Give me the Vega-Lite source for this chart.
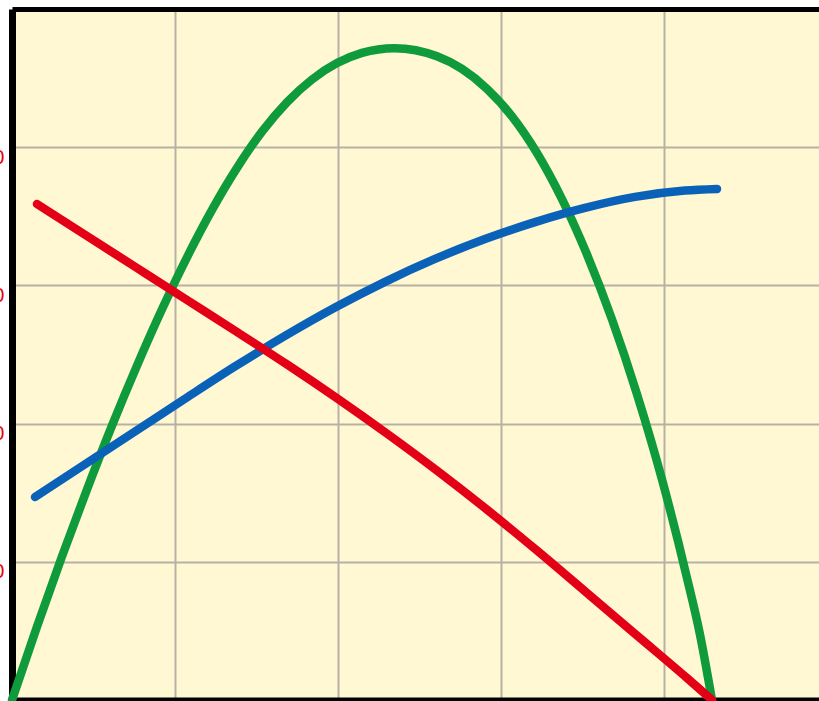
{
  "$schema": "https://vega.github.io/schema/vega-lite/v6.json",
  "width": 807,
  "height": 691,
  "autosize": {"type": "none"},
  "padding": {"left": 12, "top": 9, "right": 0, "bottom": 1},
  "background": "#ffffff",
  "config": {"view": {"fill": "#fff8d2", "stroke": null}},
  "datasets": {
    "curves": [
      {"series": "green", "x": 0, "y": 0},
      {"series": "green", "x": 0.1534, "y": 0.5311},
      {"series": "green", "x": 0.3067, "y": 1.0391},
      {"series": "green", "x": 0.4601, "y": 1.5239},
      {"series": "green", "x": 0.6135, "y": 1.9855},
      {"series": "green", "x": 0.7669, "y": 2.4197},
      {"series": "green", "x": 0.9202, "y": 2.8271},
      {"series": "green", "x": 1.0736, "y": 3.2033},
      {"series": "green", "x": 1.227, "y": 3.5463},
      {"series": "green", "x": 1.3804, "y": 3.8502},
      {"series": "green", "x": 1.5337, "y": 4.1122},
      {"series": "green", "x": 1.6871, "y": 4.3256},
      {"series": "green", "x": 1.8405, "y": 4.4899},
      {"series": "green", "x": 1.9939, "y": 4.6085},
      {"series": "green", "x": 2.1472, "y": 4.6823},
      {"series": "green", "x": 2.346, "y": 4.7164},
      {"series": "green", "x": 2.6074, "y": 4.6577},
      {"series": "green", "x": 2.7607, "y": 4.5666},
      {"series": "green", "x": 2.9141, "y": 4.4226},
      {"series": "green", "x": 3.0675, "y": 4.2236},
      {"series": "green", "x": 3.2209, "y": 3.958},
      {"series": "green", "x": 3.3742, "y": 3.6245},
      {"series": "green", "x": 3.5276, "y": 3.2236},
      {"series": "green", "x": 3.681, "y": 2.754},
      {"series": "green", "x": 3.8344, "y": 2.2127},
      {"series": "green", "x": 3.9877, "y": 1.5962},
      {"series": "green", "x": 4.1411, "y": 0.8835},
      {"series": "green", "x": 4.2209, "y": 0.4736},
      {"series": "green", "x": 4.2945, "y": 0},
      {"series": "blue", "x": 0.1411, "y": 1.4689},
      {"series": "blue", "x": 0.4479, "y": 1.7058},
      {"series": "blue", "x": 0.7546, "y": 1.9428},
      {"series": "blue", "x": 1.0613, "y": 2.1798},
      {"series": "blue", "x": 1.3681, "y": 2.4135},
      {"series": "blue", "x": 1.6748, "y": 2.6342},
      {"series": "blue", "x": 1.9816, "y": 2.8397},
      {"series": "blue", "x": 2.2883, "y": 3.0257},
      {"series": "blue", "x": 2.5951, "y": 3.1913},
      {"series": "blue", "x": 2.9018, "y": 3.3353},
      {"series": "blue", "x": 3.2086, "y": 3.458},
      {"series": "blue", "x": 3.5153, "y": 3.5608},
      {"series": "blue", "x": 3.8221, "y": 3.6402},
      {"series": "blue", "x": 4.1288, "y": 3.6862},
      {"series": "blue", "x": 4.3252, "y": 3.6977},
      {"series": "red", "x": 0.1534, "y": 3.589},
      {"series": "red", "x": 0.4601, "y": 3.3575},
      {"series": "red", "x": 0.7669, "y": 3.1259},
      {"series": "red", "x": 1.0736, "y": 2.8944},
      {"series": "red", "x": 1.3804, "y": 2.6628},
      {"series": "red", "x": 1.6871, "y": 2.4283},
      {"series": "red", "x": 1.9939, "y": 2.1833},
      {"series": "red", "x": 2.3006, "y": 1.9274},
      {"series": "red", "x": 2.6074, "y": 1.6597},
      {"series": "red", "x": 2.9141, "y": 1.3776},
      {"series": "red", "x": 3.2209, "y": 1.0811},
      {"series": "red", "x": 3.5276, "y": 0.7741},
      {"series": "red", "x": 3.8344, "y": 0.4666},
      {"series": "red", "x": 4.1411, "y": 0.159},
      {"series": "red", "x": 4.2945, "y": 0}
    ]
  },
  "data": {"name": "curves"},
  "encoding": {
    "y": {
      "field": "y", "type": "quantitative",
      "scale": {"domain": [0, 5], "nice": false, "zero": false},
      "axis": {
        "orient": "left", "title": null, "values": [1, 2, 3, 4],
        "grid": true, "gridColor": "#b6b1a4", "gridWidth": 2,
        "ticks": false, "tickSize": 0, "labelPadding": 8,
        "labelExpr": "'' + (datum.value * 10)",
        "labelColor": "#e60012", "labelFontSize": 20, "labelFont": "Liberation Sans",
        "labelBaseline": "top", "labelOverlap": false,
        "domain": true, "domainColor": "#000000", "domainWidth": 7
      }
    }
  },
  "layer": [
    {
      "transform": [{"filter": "datum.series === 'green'"}],
      "mark": {"type": "line", "color": "#0f9a3c", "strokeWidth": 8.5, "strokeCap": "round", "interpolate": "monotone"},
      "encoding": {
        "x": {
          "field": "x", "type": "quantitative",
          "scale": {"domain": [0, 4.951], "nice": false, "zero": false},
          "axis": {
            "orient": "bottom", "title": null, "values": [1, 2, 3, 4],
            "grid": true, "gridColor": "#b6b1a4", "gridWidth": 2,
            "labels": false, "ticks": false, "tickSize": 0,
            "domain": true, "domainColor": "#000000", "domainWidth": 6
          }
        }
      }
    },
    {
      "transform": [{"filter": "datum.series === 'blue'"}],
      "mark": {"type": "line", "color": "#0a62b8", "strokeWidth": 8.5, "strokeCap": "round", "interpolate": "monotone"},
      "encoding": {
        "x": {
          "field": "x", "type": "quantitative",
          "scale": {"domain": [0, 4.951], "nice": false, "zero": false},
          "axis": {
            "orient": "top", "title": null, "grid": false,
            "labels": false, "ticks": false, "tickSize": 0,
            "domain": true, "domainColor": "#000000", "domainWidth": 5
          }
        }
      }
    },
    {
      "transform": [{"filter": "datum.series === 'red'"}],
      "mark": {"type": "line", "color": "#e30016", "strokeWidth": 8.5, "strokeCap": "round", "interpolate": "monotone"},
      "encoding": {
        "x": {"field": "x", "type": "quantitative", "scale": {"domain": [0, 4.951], "nice": false, "zero": false}, "axis": null}
      }
    }
  ],
  "resolve": {"axis": {"x": "independent"}}
}
